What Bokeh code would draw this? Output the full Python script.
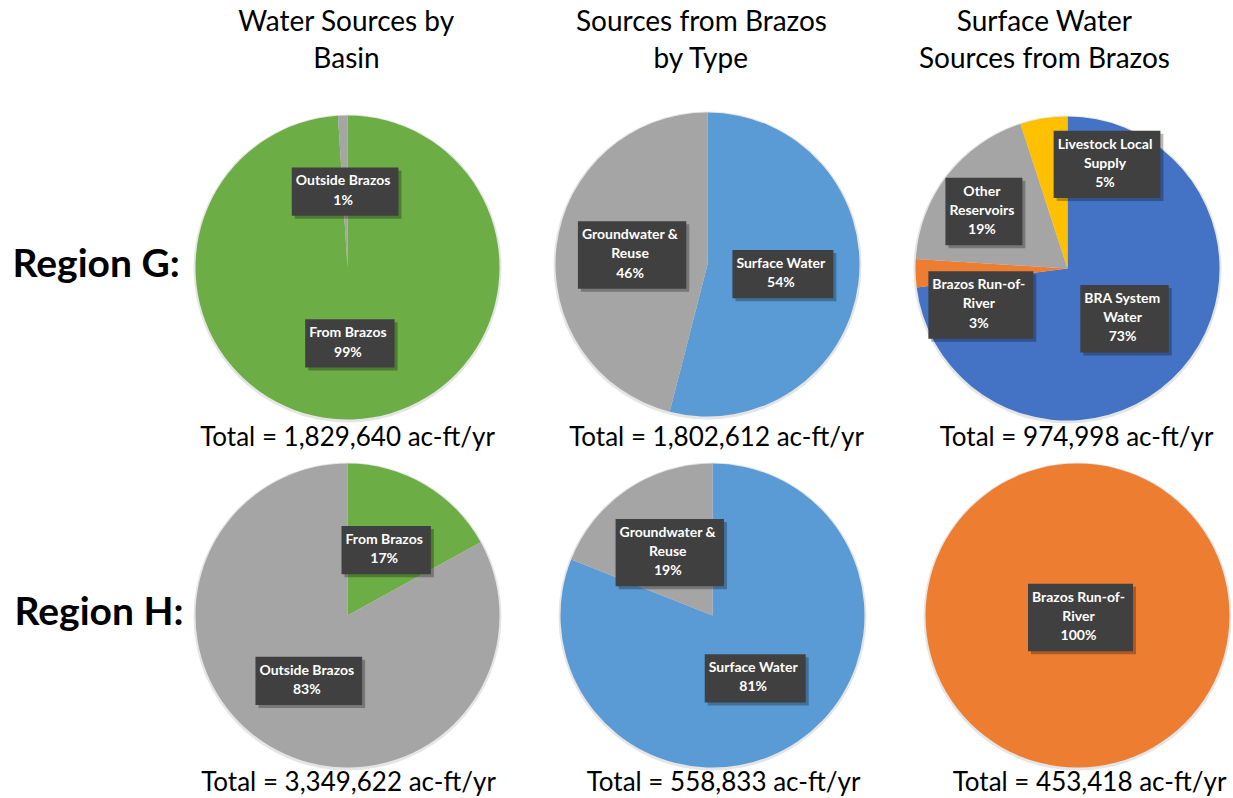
import math
from bokeh.plotting import figure
from bokeh.models import ColumnDataSource, Range1d
from bokeh.core.properties import value
from bokeh.embed import file_html
from bokeh.resources import INLINE

# ---------------- data ----------------
column_titles = ["Water Sources by\nBasin", "Sources from Brazos\nby Type", "Surface Water\nSources from Brazos"]
region_labels = ["Region G:", "Region H:"]

g_basin_names = ["From Brazos", "Outside Brazos"]
g_basin_pct = [99, 1]
g_type_names = ["Surface Water", "Groundwater &\nReuse"]
g_type_pct = [54, 46]
g_surface_names = ["BRA System\nWater", "Brazos Run-of-\nRiver", "Other\nReservoirs", "Livestock Local\nSupply"]
g_surface_pct = [73, 3, 19, 5]

h_basin_names = ["From Brazos", "Outside Brazos"]
h_basin_pct = [17, 83]
h_type_names = ["Surface Water", "Groundwater &\nReuse"]
h_type_pct = [81, 19]
h_surface_names = ["Brazos Run-of-\nRiver"]
h_surface_pct = [100]

totals = [1829640, 1802612, 974998, 3349622, 558833, 453418]  # ac-ft/yr

# ---------------- style ----------------
COLORS = {
    "From Brazos": "#6DAD46",
    "Outside Brazos": "#A5A5A5",
    "Surface Water": "#5B9BD5",
    "Groundwater &\nReuse": "#A5A5A5",
    "BRA System\nWater": "#4472C4",
    "Brazos Run-of-\nRiver": "#ED7D31",
    "Other\nReservoirs": "#A5A5A5",
    "Livestock Local\nSupply": "#FFC000",
}
FONT = "Lato"
W, H = 1233, 798
MID = 0.39  # distance from baseline to text middle, in em


def X(px):
    return px


def Y(py):
    return H - py


def Yb(baseline, fs):
    """data y of the text middle for a given page baseline and font size"""
    return Y(baseline - MID * fs)


RADIUS = 152
pie_centers = [(347, 267), (707, 264), (1067, 268), (347, 615), (712, 615), (1077, 615)]
# label overrides (fraction of radius, right / up) for "best fit" labels
label_override = {(2, 1): (-0.57, -0.24), (2, 2): (-0.55, 0.375), (2, 3): (0.26, 0.685)}
total_pos = [(347, 446), (716, 446), (1076, 446), (348, 791), (723, 791), (1089, 791)]
title_x = [346, 701, 1044]
title_baselines = [30, 67]
region_pos = [(12, 277), (14, 625)]
FS_TITLE, FS_REGION, FS_TOTAL = 28, 39, 26

pies = [
    (g_basin_names, g_basin_pct), (g_type_names, g_type_pct), (g_surface_names, g_surface_pct),
    (h_basin_names, h_basin_pct), (h_type_names, h_type_pct), (h_surface_names, h_surface_pct),
]

p = figure(width=W, height=H, x_range=Range1d(0, W), y_range=Range1d(0, H),
           output_backend="svg", toolbar_location=None, min_border=0,
           x_axis_type=None, y_axis_type=None)
p.grid.visible = False
p.outline_line_color = None
p.background_fill_color = "white"

wedge = dict(x=[], y=[], r=[], start=[], end=[], color=[])
labels = dict(x=[], y=[], text=[])
shadow = dict(x=[], y=[], r=[])

for i, (names, pcts) in enumerate(pies):
    cx, cy = X(pie_centers[i][0]), Y(pie_centers[i][1])
    shadow["x"].append(cx)
    shadow["y"].append(cy - 1)
    shadow["r"].append(RADIUS + 2)
    tot = float(sum(pcts))
    cum = 0.0
    for j, (name, pct) in enumerate(zip(names, pcts)):
        frac = pct / tot
        a0 = math.pi / 2 - 2 * math.pi * cum
        span = 2 * math.pi * frac
        if frac >= 1.0:
            span -= 1e-4
        a1 = a0 - span
        wedge["x"].append(cx)
        wedge["y"].append(cy)
        wedge["r"].append(RADIUS)
        wedge["start"].append(a0)
        wedge["end"].append(a1)
        wedge["color"].append(COLORS[name])
        if frac >= 1.0:
            lx, ly = cx + 3, cy - 2
        elif (i, j) in label_override:
            fx, fy = label_override[(i, j)]
            lx, ly = cx + fx * RADIUS, cy + fy * RADIUS
        else:
            mid = 2 * math.pi * (cum + frac / 2)
            lx = cx + 0.5 * RADIUS * math.sin(mid)
            ly = cy + 0.5 * RADIUS * math.cos(mid)
        labels["x"].append(lx)
        labels["y"].append(ly)
        labels["text"].append(f"{name}\n{pct}%")
        cum += frac

p.circle(x="x", y="y", radius="r", source=ColumnDataSource(shadow),
         fill_color="#000000", fill_alpha=0.10, line_color=None)
p.wedge(x="x", y="y", radius="r", start_angle="start", end_angle="end",
        direction="clock", fill_color="color", line_color=None,
        source=ColumnDataSource(wedge))

lab_src = ColumnDataSource(labels)
common = dict(text_align="center", text_baseline="middle", text_font=value(FONT),
              text_font_style="bold", text_font_size="14px", text_line_height=1.13,
              padding=(4, 8, 4, 8))
p.text(x="x", y="y", text="text", source=lab_src, text_color="#000000", text_alpha=0.0,
       background_fill_color="#000000", background_fill_alpha=0.28,
       x_offset=3, y_offset=3, **common)
p.text(x="x", y="y", text="text", source=lab_src, text_color="white",
       background_fill_color="#404040", **common)

# column titles
tx, ty, tt = [], [], []
for k, title in enumerate(column_titles):
    for li, line in enumerate(title.split("\n")):
        tx.append(X(title_x[k]))
        ty.append(Yb(title_baselines[li], FS_TITLE))
        tt.append(line)
p.text(x=tx, y=ty, text=tt, text_align="center", text_baseline="middle",
       text_font=value(FONT), text_font_size=f"{FS_TITLE}px", text_color="#000000")

# region labels
p.text(x=[X(a) for a, b in region_pos], y=[Yb(b, FS_REGION) for a, b in region_pos],
       text=region_labels, text_align="left", text_baseline="middle", text_font=value(FONT),
       text_font_style="bold", text_font_size=f"{FS_REGION}px", text_color="#000000")

# totals
p.text(x=[X(a) for a, b in total_pos], y=[Yb(b, FS_TOTAL) for a, b in total_pos],
       text=[f"Total = {t:,} ac-ft/yr" for t in totals],
       text_align="center", text_baseline="middle", text_font=value(FONT),
       text_font_size=f"{FS_TOTAL}px", text_color="#000000")

open("out.html", "w").write(file_html(p, INLINE))
